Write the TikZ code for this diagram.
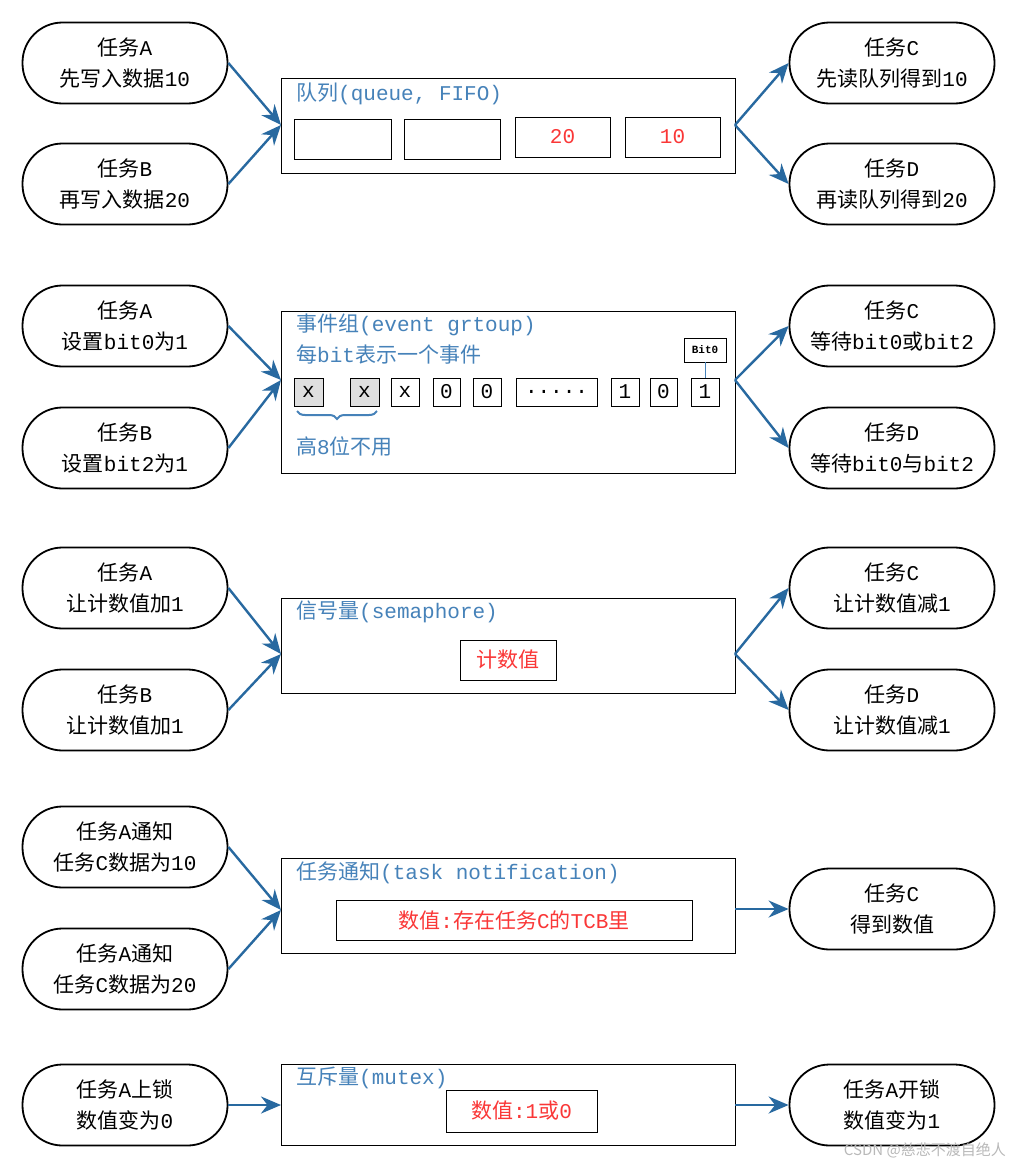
\documentclass[tikz,border=0pt]{standalone}
\usepackage{fontspec}
\setmainfont{Liberation Mono}
\newfontfamily\cjk{Noto Sans CJK SC}
\newcommand\zh[1]{{\cjk #1}}
\newcommand\fivedots{.....}
\usetikzlibrary{arrows.meta,decorations.pathreplacing}
\definecolor{ttl}{RGB}{70,130,185}
\definecolor{arr}{RGB}{40,105,160}
\definecolor{rd}{RGB}{250,55,55}
\tikzset{
 task/.style={draw,line width=1.8pt,rounded corners=40pt,minimum width=205pt,minimum height=81pt,align=center,font=\fontsize{21}{31}\selectfont,inner sep=0pt},
 panel/.style={draw,line width=0.9pt,inner sep=0pt},
 cell/.style={draw,line width=0.9pt,inner sep=0pt,font=\fontsize{21}{24}\selectfont},
 ttext/.style={text=ttl,anchor=west,inner sep=0pt,font=\fontsize{21}{24}\selectfont},
 conn/.style={arr,line width=2.4pt,-{Stealth[length=20pt,width=17pt]}},
}
\begin{document}
\begin{tikzpicture}[x=1pt,y=-1pt]
\useasboundingbox[fill=white] (0,0) rectangle (1011,1167);
% ---------- Row 1 queue
\node[task] (qa) at (125,63) {\zh{任务}A\\\zh{先写入数据}10};
\node[task] (qb) at (125,184) {\zh{任务}B\\\zh{再写入数据}20};
\node[task] (qc) at (892,63) {\zh{任务}C\\\zh{先读队列得到}10};
\node[task] (qd) at (892,184) {\zh{任务}D\\\zh{再读队列得到}20};
\draw[panel] (281,78) rectangle (735,173);
\coordinate (ql) at (281,125); \coordinate (qr) at (735,125);
\node[ttext] (qt) at (296,94) {\zh{队列}(queue, FIFO)};
\node[cell,minimum width=97pt,minimum height=40pt] (q1) at (342.5,139) {};
\node[cell,minimum width=96pt,minimum height=40pt] (q2) at (452.5,139) {};
\node[cell,minimum width=95pt,minimum height=40pt,text=rd] (q3) at (562.5,137) {20};
\node[cell,minimum width=95pt,minimum height=40pt,text=rd] (q4) at (672.5,137) {10};
\draw[conn] (qa.east) -- (ql); \draw[conn] (qb.east) -- (ql);
\draw[conn] (qr) -- (qc.west); \draw[conn] (qr) -- (qd.west);
% ---------- Row 2 event group
\node[task] (ea) at (125,326) {\zh{任务}A\\\zh{设置}bit0\zh{为}1};
\node[task] (eb) at (125,448) {\zh{任务}B\\\zh{设置}bit2\zh{为}1};
\node[task] (ec) at (892,326) {\zh{任务}C\\\zh{等待}bit0\zh{或}bit2};
\node[task] (ed) at (892,448) {\zh{任务}D\\\zh{等待}bit0\zh{与}bit2};
\draw[panel] (281,311) rectangle (735,473);
\coordinate (el) at (281,380); \coordinate (er) at (735,380);
\node[ttext] (et1) at (296,325) {\zh{事件组}(event grtoup)};
\node[ttext] (et2) at (296,354) {\zh{每}bit\zh{表示一个事件}};
\foreach \n/\a/\b/\t/\f in {b1/294/323/x/gray!25,b2/350/379/x/gray!25,b3/391/419/x/white,b4/433/460/0/white,b5/473/501/0/white,b6/516/597/\fivedots/white,b7/611/639/1/white,b8/650/677/0/white,b9/691/719/1/white}
  \node[cell,fill=\f,minimum width={\b-\a},minimum height=28pt] (\n) at ({(\a+\b)/2},392) {\t};
\node[draw,line width=0.8pt,font=\fontsize{11}{12}\selectfont\bfseries,minimum width=42pt,minimum height=24pt,inner sep=0pt] (bit0) at (705,350) {Bit0};
\draw[ttl,line width=0.9pt] (bit0.south) -- (b9.north);
\draw[ttl,line width=2pt,decorate,decoration={brace,amplitude=8pt,mirror,aspect=0.5}] (297,411) -- (377,411);
\node[ttext] (eh) at (296,446) {\zh{高}8\zh{位不用}};
\draw[conn] (ea.east) -- (el); \draw[conn] (eb.east) -- (el);
\draw[conn] (er) -- (ec.west); \draw[conn] (er) -- (ed.west);
% ---------- Row 3 semaphore
\node[task] (sa) at (125,588) {\zh{任务}A\\\zh{让计数值加}1};
\node[task] (sb) at (125,710) {\zh{任务}B\\\zh{让计数值加}1};
\node[task] (sc) at (892,588) {\zh{任务}C\\\zh{让计数值减}1};
\node[task] (sd) at (892,710) {\zh{任务}D\\\zh{让计数值减}1};
\draw[panel] (281,598) rectangle (735,693);
\coordinate (sl) at (281,654); \coordinate (sr) at (735,654);
\node[ttext] (st) at (296,612) {\zh{信号量}(semaphore)};
\node[cell,minimum width=96pt,minimum height=40pt,text=rd] (sv) at (508,660) {\zh{计数值}};
\draw[conn] (sa.east) -- (sl); \draw[conn] (sb.east) -- (sl);
\draw[conn] (sr) -- (sc.west); \draw[conn] (sr) -- (sd.west);
% ---------- Row 4 task notification
\node[task] (na) at (125,847) {\zh{任务}A\zh{通知}\\\zh{任务}C\zh{数据为}10};
\node[task] (nb) at (125,969) {\zh{任务}A\zh{通知}\\\zh{任务}C\zh{数据为}20};
\node[task] (nc) at (892,909) {\zh{任务}C\\\zh{得到数值}};
\draw[panel] (281,858) rectangle (735,953);
\coordinate (nl) at (281,910); \coordinate (nr) at (735,909);
\node[ttext] (nt) at (296,873) {\zh{任务通知}(task notification)};
\node[cell,minimum width=356pt,minimum height=40pt,text=rd] (nv) at (514,920) {\zh{数值}:\zh{存在任务}C\zh{的}TCB\zh{里}};
\draw[conn] (na.east) -- (nl); \draw[conn] (nb.east) -- (nl);
\draw[conn] (nr) -- (nc.west);
% ---------- Row 5 mutex
\node[task] (ma) at (125,1105) {\zh{任务}A\zh{上锁}\\\zh{数值变为}0};
\node[task] (mc) at (892,1105) {\zh{任务}A\zh{开锁}\\\zh{数值变为}1};
\draw[panel] (281,1064) rectangle (735,1145);
\coordinate (ml) at (281,1105); \coordinate (mr) at (735,1105);
\node[ttext] (mt) at (296,1078) {\zh{互斥量}(mutex)};
\node[cell,minimum width=151pt,minimum height=42pt,text=rd] (mv) at (521.5,1111) {\zh{数值}:1\zh{或}0};
\draw[conn] (ma.east) -- (ml);
\draw[conn] (mr) -- (mc.west);
% watermark
\node[anchor=east,text=gray!55,inner sep=0pt,font=\cjk\fontsize{15}{16}\selectfont] (wm) at (1006,1150) {CSDN @慈悲不渡自绝人};
\end{tikzpicture}
\end{document}
